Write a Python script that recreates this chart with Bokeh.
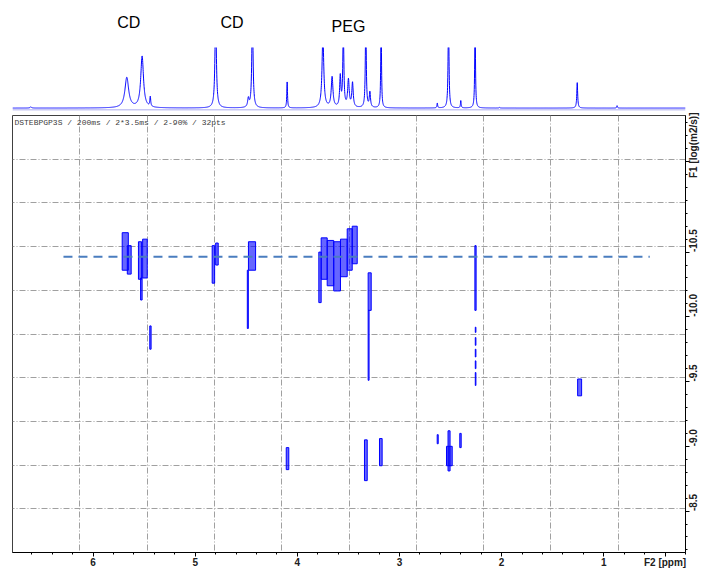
import math
import numpy as np
from bokeh.plotting import figure
from bokeh.layouts import column
from bokeh.core.properties import value
from bokeh.models import (Range1d, Label, Span, FixedTicker, PrintfTickFormatter, ColumnDataSource)
from bokeh.embed import file_html
from bokeh.resources import INLINE

# ---------------- data ----------------
# 1D projection (F2) peak list: position (ppm), relative height, half-width (ppm)
peak_ppm = [6.61, 5.67, 5.52, 5.44, 4.80, 4.48, 4.44, 4.10, 3.75, 3.66, 3.58, 3.55,
            3.50, 3.46, 3.33, 3.29, 3.18, 2.63, 2.52, 2.40, 2.26, 2.02, 1.26, 0.87]
peak_height = [0.02, 0.50, 0.85, 0.16, 1.6, 0.14, 1.6, 0.43, 1.2, 0.50, 0.50, 1.3,
               0.45, 0.40, 1.6, 0.25, 1.6, 0.08, 1.6, 0.12, 1.6, 0.01, 0.42, 0.04]
peak_width = [0.008, 0.022, 0.016, 0.005, 0.008, 0.008, 0.007, 0.004, 0.010, 0.010, 0.007, 0.006,
              0.009, 0.008, 0.005, 0.007, 0.004, 0.004, 0.005, 0.004, 0.004, 0.005, 0.005, 0.004]

# 2D DOSY contour spots: F2 left/right (ppm), F1 top/bottom (log(m2/s))
spot_left = [5.715, 5.665, 5.556, 5.515, 5.535, 5.445, 4.834, 4.800, 4.479, 4.490,
             3.790, 3.767, 3.708, 3.644, 3.578, 3.512, 3.463,
             3.307, 3.307, 2.262, 2.258, 2.258, 2.258, 2.258, 2.258,
             1.256, 3.343, 3.196, 2.631, 2.525, 2.540, 2.410, 4.109]
spot_right = [5.655, 5.627, 5.525, 5.470, 5.520, 5.432, 4.810, 4.775, 4.409, 4.480,
              3.767, 3.708, 3.644, 3.578, 3.512, 3.463, 3.414,
              3.277, 3.298, 2.250, 2.252, 2.252, 2.252, 2.252, 2.252,
              1.217, 3.316, 3.170, 2.621, 2.505, 2.484, 2.396, 4.084]
spot_top = [-10.65, -10.55, -10.58, -10.60, -10.30, -9.93, -10.55, -10.57, -10.58, -10.36,
            -10.50, -10.61, -10.59, -10.58, -10.60, -10.68, -10.70,
            -10.34, -10.05, -10.55, -9.92, -9.84, -9.75, -9.66, -9.57,
            -9.52, -9.05, -9.06, -9.09, -9.12, -9.00, -9.10, -8.99]
spot_bottom = [-10.36, -10.33, -10.29, -10.30, -10.13, -9.75, -10.26, -10.40, -10.36, -9.91,
               -10.11, -10.29, -10.24, -10.20, -10.31, -10.36, -10.41,
               -10.05, -9.51, -10.05, -9.88, -9.78, -9.69, -9.60, -9.47,
               -9.39, -8.735, -8.85, -9.02, -8.81, -8.85, -8.99, -8.82]

# reference diffusion coefficient line
ref_ppm = [6.29, 0.55]
ref_logd = [-10.465, -10.465]

# labels over the projection
tag_text = ["CD", "CD", "PEG"]
tag_ppm = [5.65, 4.64, 3.50]
tag_y = [0.51, 0.51, 0.42]

# axis ticks and titles
f2_ticks = [6, 5, 4, 3, 2, 1]
f2_title, f2_title_pos = "F2 [ppm]", 0.4
f1_ticks = [-10.5, -10.0, -9.5, -9.0, -8.5]
f1_title, f1_title_pos = "F1 [log(m2/s)]", -11.2

# axis ranges (ppm and log D)
F2_MAX, F2_MIN = 6.789, 0.200
F1_TOP, F1_BOT = -11.555, -8.18

# ---------------- figures ----------------
xr = Range1d(F2_MAX, F2_MIN)
FW = 673

head = figure(frame_width=FW, frame_height=45, x_range=xr, y_range=Range1d(0, 1),
              output_backend="svg", toolbar_location=None,
              min_border_left=12, min_border_right=17, min_border_top=0, min_border_bottom=0)
head.axis.visible = False
head.grid.visible = False
head.outline_line_color = None
head.text(x=tag_ppm, y=tag_y, text=tag_text, text_align="center", text_baseline="middle",
          text_font=value("Liberation Sans"), text_font_size="16px", text_color="#000000")

top = figure(frame_width=FW, frame_height=63, x_range=xr, y_range=Range1d(-0.04, 1.0),
             output_backend="svg", toolbar_location=None,
             min_border_left=12, min_border_right=17, min_border_top=2, min_border_bottom=2)
top.axis.visible = False
top.grid.visible = False
top.outline_line_color = None

xs = np.linspace(F2_MAX, F2_MIN, 6000)
ys = np.zeros_like(xs)
for c, h, w in zip(peak_ppm, peak_height, peak_width):
    ys += h / (1.0 + ((xs - c) / w) ** 2)
top.line(xs, ys, line_color="#0000ff", line_width=1)
top.add_layout(Span(location=-0.04, dimension="width", line_color="#c8c8f4", line_width=3))

p = figure(frame_width=FW, frame_height=437, x_range=xr, y_range=Range1d(F1_BOT, F1_TOP),
           output_backend="svg", toolbar_location=None, y_axis_location="right",
           min_border_left=12, min_border_right=0, min_border_top=3, min_border_bottom=0)
p.outline_line_color = "#404040"
p.outline_line_width = 1

p.xgrid.ticker = FixedTicker(ticks=list(np.linspace(F2_MAX, F2_MIN, 11)[1:-1]))
p.ygrid.ticker = FixedTicker(ticks=list(np.linspace(F1_TOP, F1_BOT, 11)[1:-1]))
for g in (p.xgrid, p.ygrid):
    g.grid_line_color = "#a0a0a0"
    g.grid_line_dash = "6 2 1 2"
    g.grid_line_width = 1

p.xaxis.ticker = FixedTicker(ticks=f2_ticks + [f2_title_pos],
                             minor_ticks=[round(v, 1) for v in np.arange(0.2, 6.79, 0.2)])
p.xaxis.formatter = PrintfTickFormatter(format="%d")
p.xaxis.major_label_overrides = {f2_title_pos: f2_title}
p.yaxis.ticker = FixedTicker(ticks=f1_ticks + [f1_title_pos],
                             minor_ticks=[round(v, 1) for v in np.arange(-11.5, -8.15, 0.1)])
p.yaxis.formatter = PrintfTickFormatter(format="%.1f")
p.yaxis.major_label_overrides = {f1_title_pos: f1_title}
for ax in (p.xaxis, p.yaxis):
    ax.axis_line_color = "#000000"
    ax.major_tick_in = 0
    ax.minor_tick_in = 0
    ax.major_tick_out = 4
    ax.minor_tick_out = 2
    ax.major_label_text_font = "Liberation Sans"
    ax.major_label_text_font_style = "bold"
    ax.major_label_text_font_size = "10px"
    ax.major_label_text_color = "#202020"
p.xaxis.major_label_standoff = 0
p.yaxis.major_label_standoff = 4
p.yaxis.major_label_orientation = math.pi / 2

src = ColumnDataSource(dict(left=spot_left, right=spot_right, top=spot_top, bottom=spot_bottom))
p.quad(left="left", right="right", top="top", bottom="bottom", source=src,
       fill_color="#0000ff", fill_alpha=0.6, line_color="#0000ff", line_width=1)

p.line(ref_ppm, ref_logd, line_color="#4a7dbf", line_width=2, line_dash="9 6")

p.add_layout(Label(x=6.77, y=-11.538, text="DSTEBPGP3S / 200ms / 2*3.5ms / 2-90% / 32pts",
                   text_font="Liberation Mono", text_font_size="8px", text_color="#404040",
                   text_baseline="top", text_align="left"))

layout = column(head, top, p, spacing=0)
open("out.html", "w").write(file_html(layout, INLINE))
